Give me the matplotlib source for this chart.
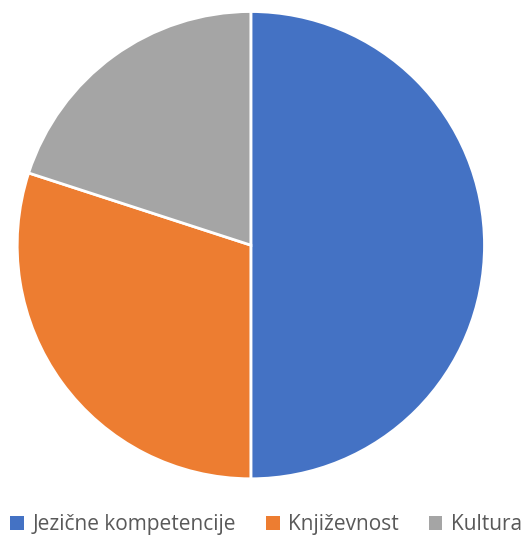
import matplotlib.pyplot as plt
from matplotlib.patches import Patch

categories = ["Jezične kompetencije", "Književnost", "Kultura"]
values = [50, 30, 20]
colors = ["#4472C4", "#ED7D31", "#A5A5A5"]

plt.rcParams['font.family'] = ['Open Sans', 'DejaVu Sans']

fig = plt.figure(figsize=(5.27, 5.40), dpi=100)
ax = fig.add_axes([0.476 - 0.448, 0.546 - 0.437, 0.896, 0.874])
ax.pie(values, colors=colors, startangle=90, counterclock=False,
       wedgeprops=dict(edgecolor="white", linewidth=2))
ax.set_xlim(-1.01, 1.01)
ax.set_ylim(-1.01, 1.01)
ax.set_aspect("equal")
ax.axis("off")

handles = [Patch(facecolor=c, edgecolor="none") for c in colors]
fig.legend(handles, categories, loc="lower center", ncol=3, frameon=False,
           bbox_to_anchor=(0.505, -0.018), fontsize=15, labelcolor="#595959",
           handlelength=0.65, handleheight=0.65, handletextpad=0.4,
           columnspacing=1.45, borderaxespad=0.3)

fig.savefig("out.png", dpi=100)
